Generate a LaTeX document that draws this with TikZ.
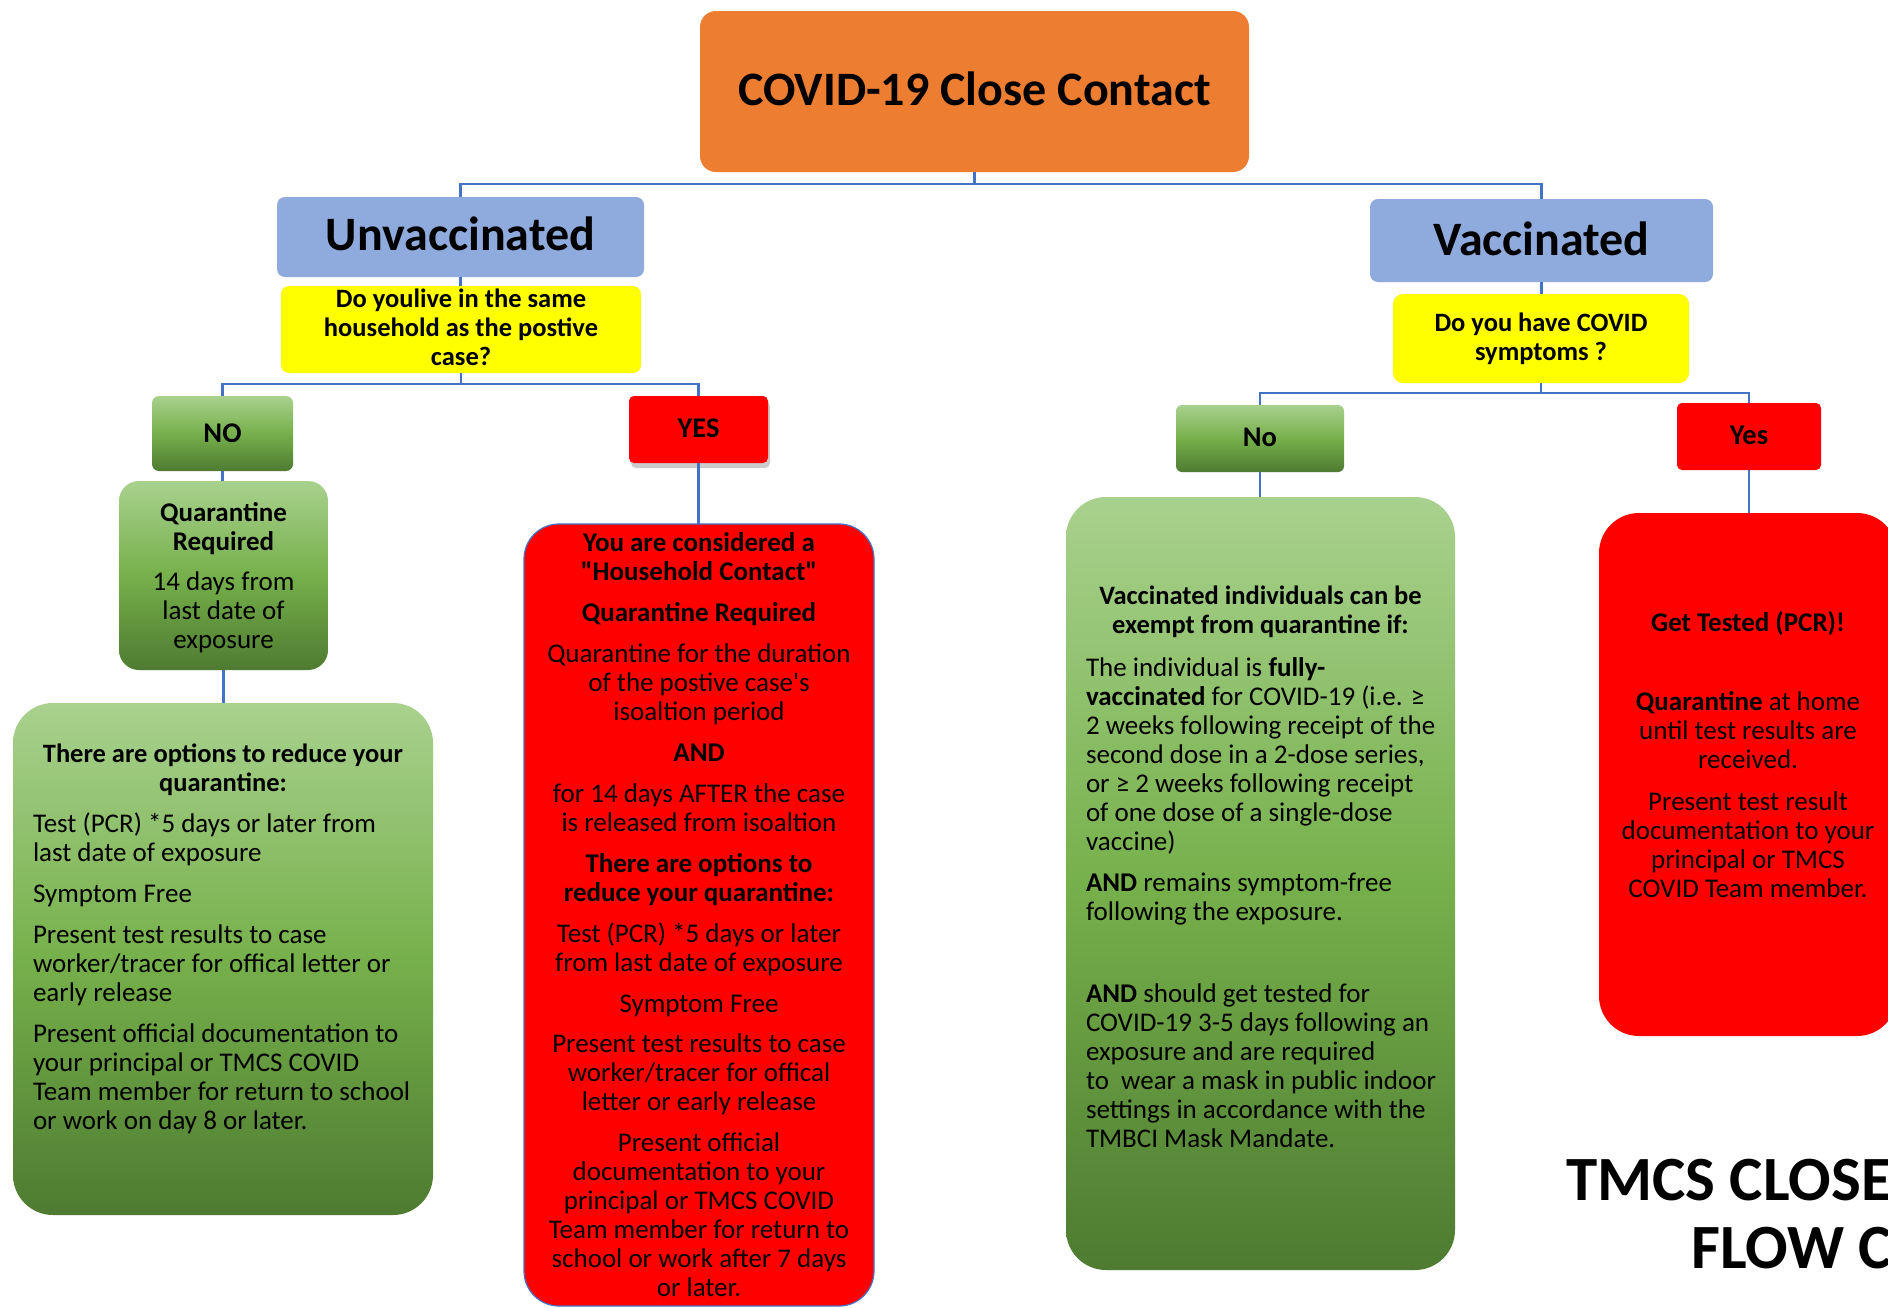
\documentclass[tikz,border=0pt]{standalone}
\usepackage{fontspec}
\setmainfont{Carlito}[Ligatures=TeXOff]
\usetikzlibrary{shadows}
\definecolor{corange}{HTML}{ED7D31}
\definecolor{cblue}{HTML}{8FAADC}
\definecolor{cline}{HTML}{4472C4}
\definecolor{cyel}{HTML}{FFFF00}
\definecolor{cred}{HTML}{FF0000}
\definecolor{gtop}{HTML}{A9D18E}
\definecolor{gmid}{HTML}{76B04B}
\definecolor{gbot}{HTML}{4E7B31}
\tikzset{
  bx/.style={rectangle, inner sep=0pt, outer sep=0pt},
  grn/.style={bx, top color=gtop, bottom color=gbot, middle color=gmid},
  conn/.style={draw=cline, line width=2.7pt},
  txt/.style={inner sep=0pt, outer sep=0pt, anchor=base, align=center, font=\fontsize{27}{29}\selectfont},
  txtb/.style={txt, font=\fontsize{26.5}{29}\selectfont\bfseries},
  yn/.style={txt, font=\fontsize{28.5}{30}\selectfont\bfseries},
  big/.style={inner sep=0pt, outer sep=0pt, anchor=base, font=\fontsize{48}{52}\selectfont\bfseries},
}
\begin{document}
\begin{tikzpicture}[x=1pt,y=-1pt]
\useasboundingbox (0,0) rectangle (1888,1307);
\clip (0,0) rectangle (1888,1307);
\fill[white] (0,0) rectangle (1888,1307);

% boxes
\node[bx, fill=corange, rounded corners=16pt, minimum width=549pt, minimum height=161pt] (title) at (974.5,91.5) {};
\node[bx, fill=cblue, rounded corners=8pt, minimum width=367pt, minimum height=80pt] (unvac) at (460.5,237) {};
\node[bx, fill=cyel, rounded corners=8pt, minimum width=360pt, minimum height=87pt] (yq1) at (461,329.5) {};
\node[grn, rounded corners=7pt, minimum width=141pt, minimum height=75pt] (no1) at (222.5,433.5) {};
\node[bx, fill=cred, rounded corners=5pt, minimum width=139pt, minimum height=67pt,
      drop shadow={shadow xshift=2pt, shadow yshift=-5pt, opacity=0.4}] (yes1) at (698.5,429.5) {};
\node[grn, rounded corners=20pt, minimum width=209pt, minimum height=189pt] (quar) at (223.5,575.5) {};
\node[grn, rounded corners=40pt, minimum width=420pt, minimum height=512pt] (opt) at (223,959) {};
\node[bx, fill=cred, draw=cline, line width=1.2pt, rounded corners=35pt, minimum width=350pt, minimum height=782pt] (house) at (699,915) {};

\node[bx, fill=cblue, rounded corners=8pt, minimum width=343pt, minimum height=83pt] (vac) at (1541.5,240.5) {};
\node[bx, fill=cyel, rounded corners=10pt, minimum width=296pt, minimum height=89pt] (yq2) at (1541,338.5) {};
\node[grn, rounded corners=6pt, minimum width=168pt, minimum height=67pt] (no2) at (1260,438.5) {};
\node[bx, fill=cred, rounded corners=5pt, minimum width=144pt, minimum height=67pt] (yes2) at (1749,436.5) {};
\node[grn, rounded corners=40pt, minimum width=389pt, minimum height=773pt] (exempt) at (1260.5,883.5) {};
\node[bx, fill=cred, rounded corners=40pt, minimum width=298pt, minimum height=523pt] (tested) at (1748,774.5) {};

% connectors
\draw[conn] (title.south) -- ++(0,12) -| (unvac.north);
\draw[conn] (title.south) -- ++(0,12) -| (vac.north);
\draw[conn] (unvac.south) -- (unvac.south |- yq1.north);
\draw[conn] (yq1.south) -- ++(0,11) -| (no1.north);
\draw[conn] (yq1.south) -- ++(0,11) -| (yes1.north);
\draw[conn] (no1.south) -- (no1.south |- quar.north);
\draw[conn] (quar.south) -- (quar.south |- opt.north);
\draw[conn] (yes1.south) -- (yes1.south |- house.north);
\draw[conn] (vac.south) -- (vac.south |- yq2.north);
\draw[conn] (yq2.south) -- ++(0,10) -| (no2.north);
\draw[conn] (yq2.south) -- ++(0,10) -| (yes2.north);
\draw[conn] (no2.south) -- (no2.south |- exempt.north);
\draw[conn] (yes2.south) -- (yes2.south |- tested.north);

% texts (multi-line nodes are anchored at the baseline of their last line)
\node[big] (ttitle) at (974.5,105) {COVID-19 Close Contact};
\node[big] (tunvac) at (460.5,250) {Unvaccinated};
\node[big] (tvac) at (1541.5,255) {Vaccinated};

\node[txtb] (tyq1) at (461,365) {Do youlive in the same\\household as the postive\\case?};
\node[txtb] (tyq2) at (1541,360) {Do you have COVID\\symptoms ?};
\node[yn] (tno1) at (222.5,442) {NO};
\node[yn] (tyes1) at (698.5,437) {YES};
\node[yn] (tno2) at (1260,446) {No};
\node[yn] (tyes2) at (1749,444) {Yes};

\node[txt] (tquar) at (223.5,648) {\textbf{Quarantine}\\\textbf{Required}\\[11pt]14 days from\\last date of\\exposure};

\node[txtb] (topth) at (223,791) {There are options to reduce your\\quarantine:};
\node[txt, anchor=base west, align=left] (toptb) at (33,1129) {Test (PCR) *5 days or later from\\last date of exposure\\[12pt]Symptom Free\\[12pt]Present test results to case\\worker/tracer for offical letter or\\early release\\[12pt]Present official documentation to\\your principal or TMCS COVID\\Team member for return to school\\or work on day 8 or later.};

\node[txt] (thouse) at (699,1296) {\textbf{You are considered a}\\\textbf{"Household Contact"}\\[12pt]\textbf{Quarantine Required}\\[12pt]Quarantine for the duration\\of the postive case's\\isoaltion period\\[12pt]\textbf{AND}\\[12pt]for 14 days AFTER the case\\is released from isoaltion\\[12pt]\textbf{There are options to}\\\textbf{reduce your quarantine:}\\[12pt]Test (PCR) *5 days or later\\from last date of exposure\\[12pt]Symptom Free\\[11pt]Present test results to case\\worker/tracer for offical\\letter or early release\\[12pt]Present official\\documentation to your\\principal or TMCS COVID\\Team member for return to\\school or work after 7 days\\or later.};

\node[txtb] (texh) at (1260.5,633) {Vaccinated individuals can be\\exempt from quarantine if:};
\node[txt, anchor=base west, align=left] (texb) at (1086,1147) {The individual is \textbf{fully-}\\\textbf{vaccinated} for COVID-19 (i.e. ≥\\2 weeks following receipt of the\\second dose in a 2-dose series,\\or ≥ 2 weeks following receipt\\of one dose of a single-dose\\vaccine)\\[12pt]\textbf{AND} remains symptom-free\\following the exposure.\\[53pt]\textbf{AND} should get tested for\\COVID-19 3-5 days following an\\exposure and are required\\to\ \ wear a mask in public indoor\\settings in accordance with the\\TMBCI Mask Mandate.};

\node[txt] (ttested) at (1748,897) {\textbf{Get Tested (PCR)!}\\[50pt]\textbf{Quarantine} at home\\until test results are\\received.\\[13pt]Present test result\\documentation to your\\principal or TMCS\\COVID Team member.};

\node[inner sep=0pt, anchor=base west, font=\fontsize{63}{70}\selectfont\bfseries] (tm1) at (1566,1200) {TMCS CLOSE};
\node[inner sep=0pt, anchor=base west, font=\fontsize{63}{70}\selectfont\bfseries] (tm2) at (1691,1268) {FLOW C};
\end{tikzpicture}
\end{document}
